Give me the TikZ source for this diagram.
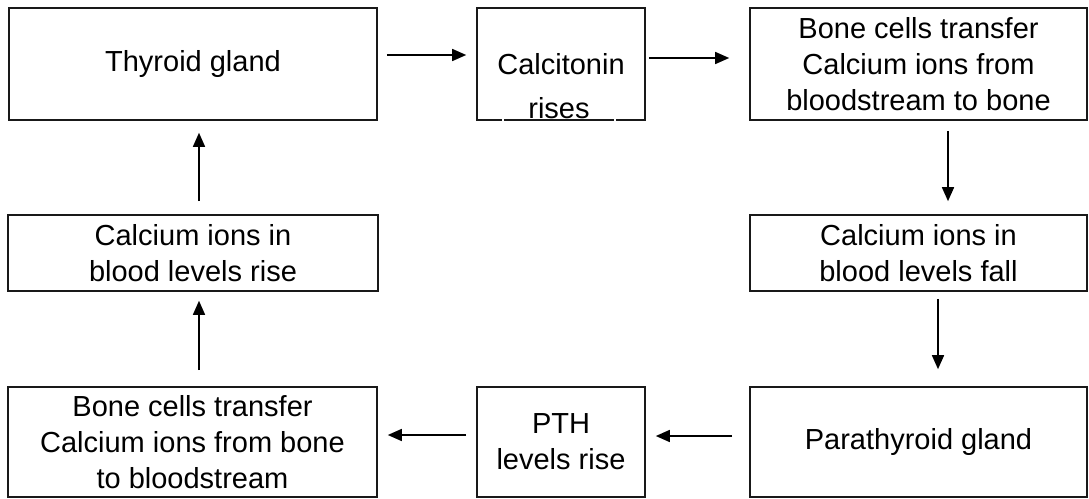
\documentclass[tikz,border=0pt]{standalone}
\usepackage{fontspec}
\setmainfont{Liberation Sans}
\usetikzlibrary{arrows.meta}
\begin{document}
\begin{tikzpicture}[x=1pt,y=-1pt,
  stagebox/.style={draw=black!90, line width=1.6pt, align=center, inner sep=0pt,
    font=\fontsize{29}{36}\selectfont},
  arr/.style={line width=1.5pt, -{Triangle[length=14pt,width=12pt]}}]
\useasboundingbox (0,0) rectangle (1089,498);
% top row
\node[stagebox, minimum width=368pt, minimum height=112pt] (thy) at (193,64) {Thyroid gland};
\node[stagebox, minimum width=168pt, minimum height=112pt] (cal) at (561,64) {};
\node[font=\fontsize{29}{36}\selectfont, inner sep=0pt] (calt) at (561,64) {Calcitonin};
% the second line sits in its own white-edged text frame
\node[draw=white, line width=2pt, font=\fontsize{29}{36}\selectfont,
  minimum width=112pt, minimum height=38pt, inner sep=0pt] (calr) at (559,108) {rises};
\node[stagebox, minimum width=337pt, minimum height=112pt] (bto) at (918.5,64)
  {Bone cells transfer\\Calcium ions from\\bloodstream to bone};
% middle row
\node[stagebox, minimum width=370pt, minimum height=76pt] (rise) at (193,253)
  {Calcium ions in\\blood levels rise};
\node[stagebox, minimum width=337pt, minimum height=76pt] (fall) at (918.5,253)
  {Calcium ions in\\blood levels fall};
% bottom row
\node[stagebox, minimum width=369pt, minimum height=110pt] (btb) at (192.5,442)
  {Bone cells transfer\\Calcium ions from bone\\to bloodstream};
\node[stagebox, minimum width=168pt, minimum height=110pt] (pth) at (561,442)
  {PTH\\levels rise};
\node[stagebox, minimum width=337pt, minimum height=110pt] (para) at (918.5,442)
  {Parathyroid gland};
% connectors
\draw[arr, shorten <=9pt, shorten >=10pt] ([yshift=9pt]thy.east) -- ([yshift=9pt]cal.west);
\draw[arr, shorten <=3pt, shorten >=20pt] ([yshift=6pt]cal.east) -- ([yshift=6pt]bto.west);
\draw[arr, shorten <=10pt, shorten >=13pt] ([xshift=29.5pt]bto.south) -- ([xshift=29.5pt]fall.north);
\draw[arr, shorten <=7pt, shorten >=17pt] ([xshift=19.5pt]fall.south) -- ([xshift=19.5pt]para.north);
\draw[arr, shorten <=17pt, shorten >=10pt] ([yshift=6pt]para.west) -- ([yshift=6pt]pth.east);
\draw[arr, shorten <=10pt, shorten >=10pt] ([yshift=7pt]pth.west) -- ([yshift=7pt]btb.east);
\draw[arr, shorten <=16pt, shorten >=9pt] ([xshift=6.5pt]btb.north) -- ([xshift=6pt]rise.south);
\draw[arr, shorten <=13pt, shorten >=12pt] ([xshift=6pt]rise.north) -- ([xshift=6pt]thy.south);
\end{tikzpicture}
\end{document}
